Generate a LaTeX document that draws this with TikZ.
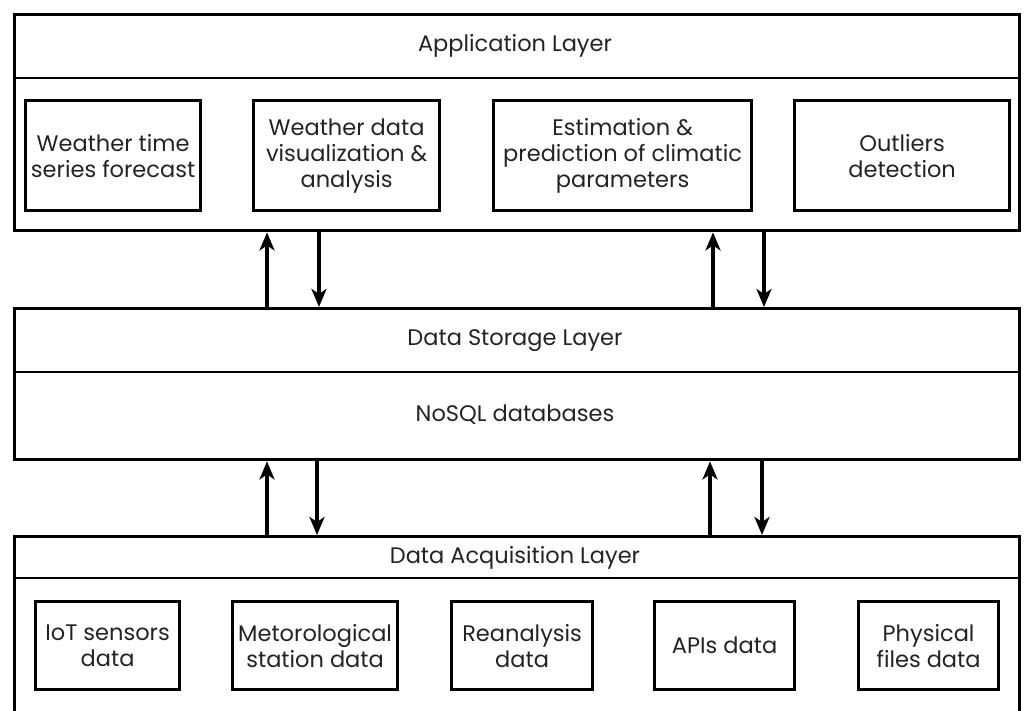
\documentclass[tikz,border=0pt]{standalone}
\usepackage{fontspec}
\setmainfont{Poppins}
\usetikzlibrary{arrows.meta}
\definecolor{txt}{RGB}{35,35,35}
\begin{document}
\begin{tikzpicture}[x=1pt,y=-1pt]
\tikzset{
 layer/.style={draw, line width=3.4pt, inner sep=0pt, anchor=north west},
 item/.style={draw, line width=3.2pt, inner sep=0pt, anchor=north west, align=center, text=txt, font=\fontsize{22.5}{26}\selectfont},
 ttl/.style={font=\fontsize{22.5}{26}\selectfont, text=txt},
 sep/.style={line width=2.4pt},
 arr/.style={line width=4pt, -{Stealth[length=18pt,width=15pt,inset=5pt]}}}
\useasboundingbox (0,0) rectangle (1031,711);
\clip (0,0) rectangle (1031,711);
% Application layer
\node[layer, minimum width=1005pt, minimum height=216pt] (app) at (13,13) {};
\draw[sep] (13,78) -- (1018,78);
\node[ttl] (appt) at (515,46) {Application Layer};
\node[item, minimum width=175pt, minimum height=110pt] (b1) at (24,99) {Weather time\\series forecast};
\node[item, minimum width=186pt, minimum height=110pt] (b2) at (252,99) {Weather data\\visualization \&\\analysis};
\node[item, minimum width=258pt, minimum height=110pt] (b3) at (492,99) {Estimation \&\\prediction of climatic\\parameters};
\node[item, minimum width=215pt, minimum height=110pt] (b4) at (793,99) {Outliers\\detection};
% Storage layer
\node[layer, minimum width=1005pt, minimum height=151pt] (sto) at (13,307) {};
\draw[sep] (13,372) -- (1018,372);
\node[ttl] (stot) at (515,341) {Data Storage Layer};
\node[ttl] (nosql) at (515,415) {NoSQL databases};
% Acquisition layer
\node[layer, minimum width=1005pt, minimum height=200pt] (acq) at (13,535) {};
\draw[sep] (13,578) -- (1018,578);
\node[ttl] (acqt) at (515,558) {Data Acquisition Layer};
\node[item, minimum width=144pt, minimum height=88pt] (a1) at (34,600) {IoT sensors\\data};
\node[item, minimum width=165pt, minimum height=88pt] (a2) at (231,600) {Metorological\\station data};
\node[item, minimum width=141pt, minimum height=88pt] (a3) at (450,600) {Reanalysis\\data};
\node[item, minimum width=140pt, minimum height=88pt] (a4) at (653,600) {APIs data};
\node[item, minimum width=140pt, minimum height=88pt] (a5) at (857,600) {Physical\\files data};
% arrow columns
\coordinate (u1) at (267,0);
\coordinate (d1) at (319,0);
\coordinate (u2) at (713,0);
\coordinate (d2) at (764,0);
\coordinate (u3) at (267,0);
\coordinate (d3) at (317,0);
\coordinate (u4) at (710,0);
\coordinate (d4) at (762,0);
\draw[arr] (sto.north -| u1) -- (app.south -| u1);
\draw[arr] (app.south -| d1) -- (sto.north -| d1);
\draw[arr] (sto.north -| u2) -- (app.south -| u2);
\draw[arr] (app.south -| d2) -- (sto.north -| d2);
\draw[arr] (acq.north -| u3) -- (sto.south -| u3);
\draw[arr] (sto.south -| d3) -- (acq.north -| d3);
\draw[arr] (acq.north -| u4) -- (sto.south -| u4);
\draw[arr] (sto.south -| d4) -- (acq.north -| d4);
\end{tikzpicture}
\end{document}
